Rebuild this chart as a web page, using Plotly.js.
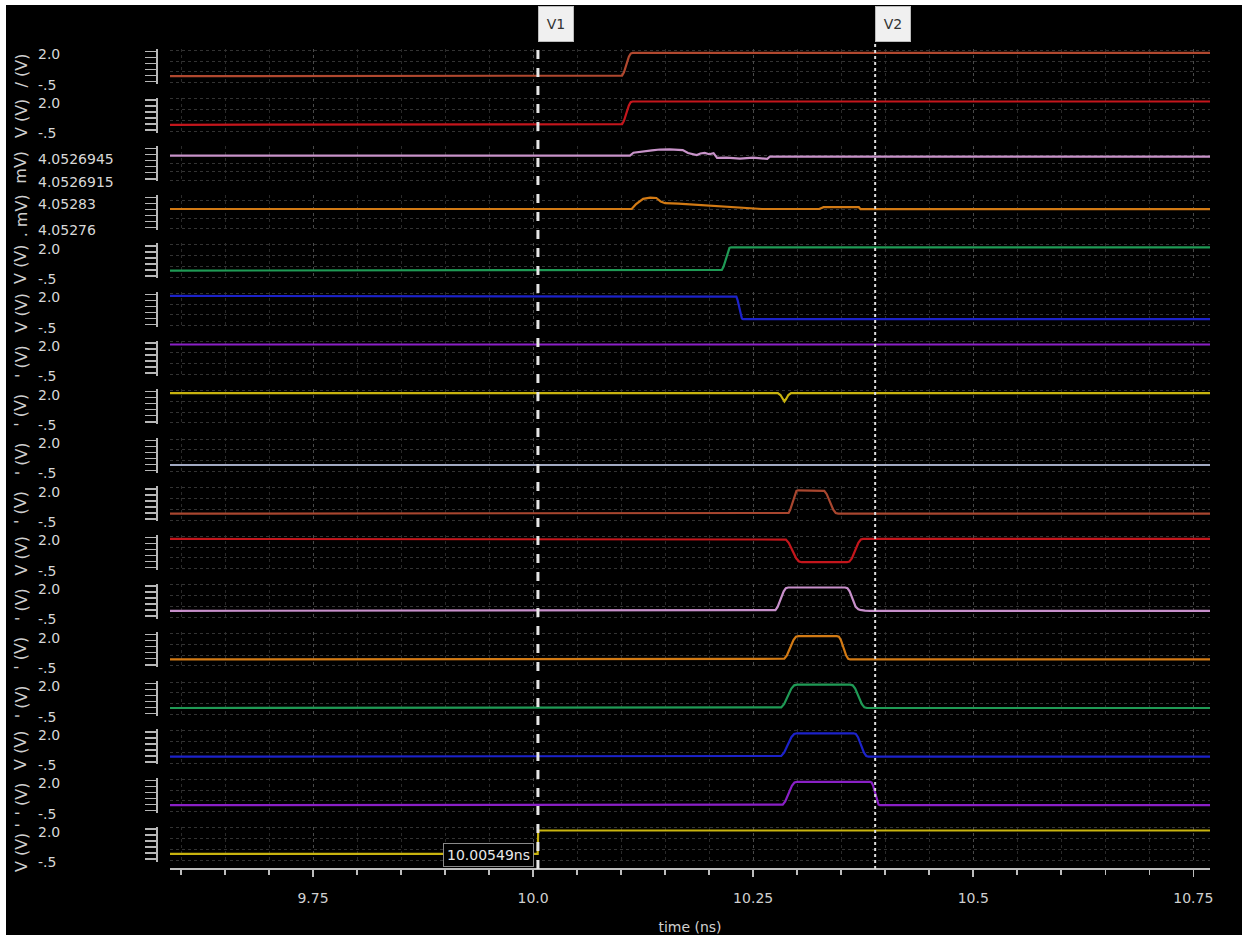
<!DOCTYPE html>
<html><head><meta charset="utf-8">
<script src="https://cdn.plot.ly/plotly-3.0.1.min.js"></script>
<style>html,body{margin:0;padding:0;background:#fff;} #chart{position:absolute;left:6px;top:5px;width:1236px;height:930px;}</style>
</head><body><div id="chart"></div><script>
// ---------------- DATA ----------------
const t_s1 = [9.5875, 10.099, 10.1011, 10.1032, 10.106, 10.1088, 10.1109, 10.113, 10.769];
const v_s1 = [0, 0, 0.05, 0.3, 0.9, 1.5, 1.75, 1.8, 1.8];
const t_s2 = [9.5875, 10.099, 10.1011, 10.1032, 10.106, 10.1088, 10.1109, 10.113, 10.769];
const v_s2 = [0, 0, 0.05, 0.3, 0.9, 1.5, 1.75, 1.8, 1.8];
const t_s3 = [9.5875, 10.110, 10.114, 10.122, 10.135, 10.144, 10.155, 10.170, 10.176, 10.186, 10.190, 10.195, 10.200, 10.205, 10.209, 10.220, 10.235, 10.250, 10.266, 10.269, 10.769];
const v_s3 = [4.05269444, 4.05269444, 4.05269478, 4.05269485, 4.05269505, 4.05269516, 4.05269518, 4.0526951, 4.05269475, 4.0526945, 4.05269468, 4.05269475, 4.0526946, 4.05269472, 4.05269415, 4.0526942, 4.05269408, 4.05269418, 4.05269405, 4.0526943, 4.0526943];
const t_s4 = [9.5875, 10.112, 10.117, 10.125, 10.133, 10.140, 10.145, 10.150, 10.165, 10.180, 10.200, 10.210, 10.230, 10.245, 10.260, 10.325, 10.330, 10.370, 10.372, 10.769];
const v_s4 = [4.0528075, 4.0528075, 4.05282, 4.052833, 4.052836, 4.052835, 4.052826, 4.052822, 4.052821, 4.052819, 4.052816, 4.052815, 4.052811, 4.052809, 4.0528075, 4.0528075, 4.052812, 4.052812, 4.052807, 4.052807];
const t_s5 = [9.5875, 10.2125, 10.2144, 10.2163, 10.2188, 10.2213, 10.2231, 10.225, 10.769];
const v_s5 = [0, 0, 0.05, 0.3, 0.9, 1.5, 1.75, 1.8, 1.8];
const t_s6 = [9.5875, 10.2295, 10.2309, 10.2322, 10.234, 10.2358, 10.2372, 10.2385, 10.769];
const v_s6 = [1.8, 1.8, 1.75, 1.5, 0.9, 0.3, 0.05, 0, 0];
const t_s7 = [9.5875, 10.769];
const v_s7 = [1.8, 1.8];
const t_s8 = [9.5875, 10.278, 10.281, 10.2835, 10.2855, 10.2875, 10.290, 10.293, 10.769];
const v_s8 = [1.8, 1.8, 1.65, 1.35, 1.15, 1.35, 1.65, 1.8, 1.8];
const t_s9 = [9.5875, 10.769];
const v_s9 = [0, 0];
const t_s10 = [9.5875, 10.2883, 10.2903, 10.2921, 10.2947, 10.2973, 10.2992, 10.3011, 10.328, 10.3308, 10.3336, 10.3373, 10.341, 10.3438, 10.3466, 10.769];
const v_s10 = [0, 0, 0.05, 0.3, 0.9, 1.5, 1.75, 1.8, 1.8, 1.75, 1.5, 0.9, 0.3, 0.05, 0, 0];
const t_s11 = [9.5875, 10.284, 10.2872, 10.2904, 10.2947, 10.2989, 10.3021, 10.3053, 10.3565, 10.3593, 10.3621, 10.3658, 10.3695, 10.3723, 10.375, 10.769];
const v_s11 = [1.8, 1.8, 1.75, 1.5, 0.9, 0.3, 0.05, 0, 0, 0.05, 0.3, 0.9, 1.5, 1.75, 1.8, 1.8];
const t_s12 = [9.5875, 10.2727, 10.2753, 10.2778, 10.2813, 10.2847, 10.2872, 10.2898, 10.3545, 10.3571, 10.3596, 10.3631, 10.3665, 10.3695, 10.3716, 10.377, 10.383, 10.769];
const v_s12 = [0, 0, 0.05, 0.3, 0.9, 1.5, 1.75, 1.8, 1.8, 1.75, 1.5, 0.9, 0.3, 0.12, 0.07, 0.02, 0, 0];
const t_s13 = [9.5875, 10.2826, 10.2854, 10.2883, 10.2921, 10.2958, 10.2986, 10.3015, 10.3451, 10.3474, 10.3496, 10.3527, 10.3557, 10.358, 10.3602, 10.769];
const v_s13 = [0, 0, 0.05, 0.3, 0.9, 1.5, 1.75, 1.8, 1.8, 1.75, 1.5, 0.9, 0.3, 0.05, 0, 0];
const t_s14 = [9.5875, 10.2788, 10.2819, 10.2851, 10.2893, 10.2934, 10.2966, 10.2997, 10.3602, 10.3631, 10.3659, 10.3697, 10.3735, 10.3764, 10.3792, 10.769];
const v_s14 = [0, 0, 0.05, 0.3, 0.9, 1.5, 1.75, 1.8, 1.8, 1.75, 1.5, 0.9, 0.3, 0.05, 0, 0];
const t_s15 = [9.5875, 10.2788, 10.2819, 10.2851, 10.2893, 10.2934, 10.2966, 10.2997, 10.364, 10.3666, 10.3691, 10.3725, 10.3759, 10.3785, 10.381, 10.769];
const v_s15 = [0, 0, 0.05, 0.3, 0.9, 1.5, 1.75, 1.8, 1.8, 1.75, 1.5, 0.9, 0.3, 0.05, 0, 0];
const t_s16 = [9.5875, 10.2807, 10.2836, 10.2864, 10.2902, 10.294, 10.2969, 10.2997, 10.383, 10.3847, 10.3863, 10.3885, 10.3907, 10.3924, 10.394, 10.769];
const v_s16 = [0, 0, 0.05, 0.3, 0.9, 1.5, 1.75, 1.8, 1.8, 1.75, 1.5, 0.9, 0.3, 0.05, 0, 0];
const t_s17 = [9.5875, 10.0052, 10.0058, 10.769];
const v_s17 = [0, 0, 1.8, 1.8];

const stripColors = ['#b0482f', '#c4161c', '#c893c9', '#d27a14', '#1f9a55', '#1c22c9', '#8a20c6', '#c8b30f', '#a2aac2', '#a8462f', '#c4161c', '#c78fca', '#d27a14', '#1f9a55', '#1c22c9', '#8a20c6', '#c8b30f'];
const yTickVals = [[2.0, -0.5], [2.0, -0.5], [4.0526945, 4.0526915], [4.05283, 4.05276], [2.0, -0.5], [2.0, -0.5], [2.0, -0.5], [2.0, -0.5], [2.0, -0.5], [2.0, -0.5], [2.0, -0.5], [2.0, -0.5], [2.0, -0.5], [2.0, -0.5], [2.0, -0.5], [2.0, -0.5], [2.0, -0.5]];
const yTickText = [['2.0', '-.5'], ['2.0', '-.5'], ['4.0526945', '4.0526915'], ['4.05283', '4.05276'], ['2.0', '-.5'], ['2.0', '-.5'], ['2.0', '-.5'], ['2.0', '-.5'], ['2.0', '-.5'], ['2.0', '-.5'], ['2.0', '-.5'], ['2.0', '-.5'], ['2.0', '-.5'], ['2.0', '-.5'], ['2.0', '-.5'], ['2.0', '-.5'], ['2.0', '-.5']];
const yUnitLabels = ['/ (V)', 'V (V)', 'mV)', '. mV)', 'V (V)', 'V (V)', "' (V)", "' (V)", "' (V)", "' (V)", 'V (V)', "' (V)", "' (V)", "' (V)", 'V (V)', "' (V)", "V (V) '"];
const xTickVals = [9.75, 10.0, 10.25, 10.5, 10.75];
const xTickText = ['9.75', '10.0', '10.25', '10.5', '10.75'];
const xMinorVals = [9.6, 9.65, 9.7, 9.8, 9.85, 9.9, 9.95, 10.05, 10.1, 10.15, 10.2, 10.3, 10.35, 10.4, 10.45, 10.55, 10.6, 10.65, 10.7];
const markerV1 = 10.00549;
const markerV2 = 10.3886;
const markerV1Text = '10.00549ns';

const times = [t_s1, t_s2, t_s3, t_s4, t_s5, t_s6, t_s7, t_s8, t_s9, t_s10, t_s11, t_s12, t_s13, t_s14, t_s15, t_s16, t_s17];
const vals = [v_s1, v_s2, v_s3, v_s4, v_s5, v_s6, v_s7, v_s8, v_s9, v_s10, v_s11, v_s12, v_s13, v_s14, v_s15, v_s16, v_s17];

// ---------------- LAYOUT ----------------
const PLOT_TOP = 49, PLOT_BOT = 869, PLOT_LEFT = 156, PLOT_RIGHT = 1210;
const PH = PLOT_BOT - PLOT_TOP, PW = PLOT_RIGHT - PLOT_LEFT;
const PITCH = 48.6, SH = 35;
const py = Y => (PLOT_BOT - Y) / PH;
const px = X => (X - PLOT_LEFT) / PW;

const ranges = [];
for (let i = 0; i < 17; i++) {
  if (i === 2) ranges.push([4.05269136, 4.05269556]);
  else if (i === 3) ranges.push([4.0527555, 4.052843]);
  else ranges.push([-0.6, 2.1]);
}

const fontFam = 'DejaVu Sans, Verdana, sans-serif';
const layout = {
  width: 1236, height: 930,
  paper_bgcolor: '#000', plot_bgcolor: '#000',
  margin: {l: 150, r: 32, t: 44, b: 66},
  showlegend: false,
  xaxis: {
    domain: [px(170), 1], range: [9.5875, 10.769], anchor: 'free', position: 0,
    tickmode: 'array', tickvals: xTickVals, ticktext: xTickText,
    showgrid: true, gridcolor: '#4a4a4a', griddash: 'dot', gridwidth: 1,
    showline: true, linecolor: '#bdbdbd', linewidth: 2,
    ticks: 'outside', ticklen: 7, tickcolor: '#bdbdbd', tickwidth: 1.5,
    tickfont: {color: '#d0d0d0', size: 14, family: fontFam},
    ticklabelstandoff: 9,
    zeroline: false,
    minor: {tickmode: 'array', tickvals: xMinorVals, ticks: 'outside', ticklen: 5, tickcolor: '#bdbdbd', showgrid: true, gridcolor: '#2a2a2a', griddash: 'dot'},
    title: {text: 'time (ns)', font: {color: '#d0d0d0', size: 14, family: fontFam}, standoff: 16}
  },
  shapes: [], annotations: []
};

const traces = [];
for (let i = 0; i < 17; i++) {
  const top = PLOT_TOP + PITCH * i, bot = top + SH;
  const id = i === 0 ? '' : String(i + 1);
  const r = ranges[i];
  const span = r[1] - r[0];
  const lo = yTickVals[i][1], hi = yTickVals[i][0];
  const gridVals = [lo, lo + (hi - lo) / 3, lo + (hi - lo) * 2 / 3, hi];
  const rulerVals = [];
  for (let k = 0; k < 6; k++) rulerVals.push(r[0] + span * (0.07 + 0.86 * k / 5));
  layout['yaxis' + id] = {
    domain: [py(bot), py(top)], range: r, anchor: 'free', position: 0,
    tickmode: 'array', tickvals: rulerVals, showticklabels: false,
    ticks: 'outside', ticklen: 11, tickcolor: '#b8b8b8', tickwidth: 1.5,
    showline: true, linecolor: '#b8b8b8', linewidth: 1.5,
    showgrid: false, zeroline: false,
    minor: {tickmode: 'array', tickvals: gridVals, ticks: '', showgrid: true, gridcolor: '#333333', griddash: 'dot', gridwidth: 1}
  };
  traces.push({
    type: 'scatter', mode: 'lines', x: times[i], y: vals[i],
    xaxis: 'x', yaxis: 'y' + id,
    line: {color: stripColors[i], width: 2.2},
    hoverinfo: 'skip'
  });
  for (let k = 0; k < 2; k++) {
    layout.annotations.push({
      xref: 'paper', x: px(37), xanchor: 'left', yref: 'y' + id, y: yTickVals[i][k], yanchor: 'middle',
      yshift: k === 0 ? -4 : -2, borderpad: 0,
      text: yTickText[i][k], showarrow: false,
      font: {color: '#d8d8d8', size: 14, family: fontFam}
    });
  }
  layout.annotations.push({
    xref: 'paper', x: px(21), xanchor: 'center', yref: 'paper', y: py(top + SH / 2 + 4), yanchor: 'middle',
    text: yUnitLabels[i], textangle: -90, showarrow: false, borderpad: 0,
    font: {color: '#cfcfcf', size: 16, family: fontFam}
  });
}

// markers
layout.shapes.push({type: 'line', xref: 'x', yref: 'paper', x0: markerV1, x1: markerV1, y0: 0, y1: py(42), line: {color: '#e6e6e6', width: 3, dash: 'dash'}});
layout.shapes.push({type: 'line', xref: 'x', yref: 'paper', x0: markerV2, x1: markerV2, y0: 0, y1: py(42), line: {color: '#dddddd', width: 2, dash: 'dot'}});
layout.annotations.push({xref: 'x', x: markerV1, xanchor: 'left', yref: 'paper', y: py(42), yanchor: 'bottom', text: 'V1', showarrow: false,
  bgcolor: '#f0f0f0', bordercolor: '#bbbbbb', borderwidth: 1, borderpad: 2, width: 30, height: 30,
  font: {color: '#333', size: 14, family: fontFam}});
layout.annotations.push({xref: 'x', x: markerV2, xanchor: 'left', yref: 'paper', y: py(42), yanchor: 'bottom', text: 'V2', showarrow: false,
  bgcolor: '#f0f0f0', bordercolor: '#bbbbbb', borderwidth: 1, borderpad: 2, width: 30, height: 30,
  font: {color: '#333', size: 14, family: fontFam}});
layout.annotations.push({xref: 'x', x: markerV1, xanchor: 'right', xshift: -4, yref: 'paper', y: py(855), yanchor: 'middle', text: markerV1Text, showarrow: false,
  bgcolor: '#000', bordercolor: '#8a8a8a', borderwidth: 1, borderpad: 3,
  font: {color: '#e8e8e8', size: 14, family: fontFam}});

Plotly.newPlot('chart', traces, layout, {staticPlot: true, displayModeBar: false});
</script></body></html>
